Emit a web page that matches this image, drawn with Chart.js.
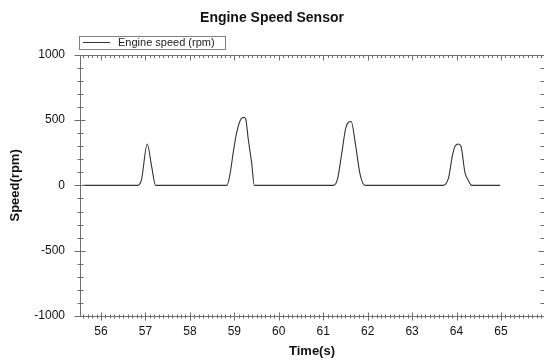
<!DOCTYPE html>
<html>
<head>
<meta charset="utf-8">
<script src="https://cdn.jsdelivr.net/npm/chart.js@4"></script>
<style>
  body { margin: 0; background: #fff; }
  #wrap { width: 545px; height: 361px; }
</style>
</head>
<body>
<div id="wrap"><canvas id="myChart"></canvas></div>
<script>
// values
const timeSec = [
    55.6, 56.82, 56.91, 57.04, 57.14, 57.23,
    58.83, 58.90, 58.98, 59.05, 59.15, 59.22, 59.26, 59.31, 59.39, 59.45,
    61.23, 61.32, 61.42, 61.51, 61.63, 61.72, 61.83, 61.94,
    63.70, 63.82, 63.91, 63.97, 64.04, 64.10, 64.19, 64.26, 64.34, 64.98
];
const speedRpm = [
    0, 0, 42, 317, 143, 0,
    0, 81, 262, 400, 508, 521, 504, 363, 172, 0,
    0, 46, 252, 443, 489, 328, 84, 0,
    0, 57, 233, 302, 317, 300, 97, 42, 0, 0
];
const xTicks = [56, 57, 58, 59, 60, 61, 62, 63, 64, 65];
const yTicks = [-1000, -500, 0, 500, 1000];

const fontFamily = '"Liberation Sans", Arial, sans-serif';
const axisColor = '#6e6e6e';
const textColor = '#111';

// box, minor ticks and the boxed legend, like the original plot
const framePlugin = {
    id: 'frame',
    afterDraw(chart) {
        const ctx = chart.ctx;
        const a = chart.chartArea;
        const xs = chart.scales.x;
        const ys = chart.scales.y;
        const L = Math.round(a.left) + 0.5;
        const R = Math.round(a.right) - 0.5;
        const T = Math.round(a.top) + 0.5;
        const B = Math.round(a.bottom) + 0.5;

        ctx.save();
        ctx.strokeStyle = axisColor;
        ctx.lineWidth = 1;
        ctx.beginPath();
        ctx.moveTo(L, T); ctx.lineTo(R, T);
        ctx.moveTo(L, T); ctx.lineTo(L, B); ctx.lineTo(R, B);

        for (let i = Math.ceil(xs.min * 10); i <= Math.floor(xs.max * 10); i++) {
            const x = Math.round(xs.getPixelForValue(i / 10)) + 0.5;
            const major = i % 10 === 0;
            const h = major ? 4 : 2;
            ctx.moveTo(x, B - h); ctx.lineTo(x, B + h);
            ctx.moveTo(x, T); ctx.lineTo(x, T + (major ? 5 : 2.5));
        }
        for (let v = -1000; v <= 1000; v += 100) {
            const y = Math.round(ys.getPixelForValue(v)) + 0.5;
            const major = v % 500 === 0;
            ctx.moveTo(L - (major ? 6 : 3), y); ctx.lineTo(L + (major ? 5 : 3), y);
            ctx.moveTo(R + 0.5, y); ctx.lineTo(R - (major ? 5 : 3), y);
        }
        ctx.stroke();

        // legend box
        const ds = chart.data.datasets[0];
        ctx.strokeStyle = '#808080';
        ctx.strokeRect(79.5, 36.5, 146, 13);
        ctx.beginPath();
        ctx.strokeStyle = ds.borderColor;
        ctx.moveTo(83, 42.5); ctx.lineTo(110, 42.5);
        ctx.stroke();
        ctx.fillStyle = '#222';
        ctx.font = '11px ' + fontFamily;
        ctx.textBaseline = 'middle';
        ctx.textAlign = 'left';
        ctx.fillText(ds.label, 118, 42.5);
        ctx.restore();
    }
};

const data = {
    datasets: [{
        label: 'Engine speed (rpm)',
        data: timeSec.map((t, i) => ({ x: t, y: speedRpm[i] })),
        borderColor: '#333333',
        borderWidth: 1.1,
        pointRadius: 0,
        cubicInterpolationMode: 'monotone',
        fill: false,
    }]
};

const options = {
    responsive: true,
    maintainAspectRatio: false,
    animation: false,
    layout: { padding: { left: 0, right: 1, top: 0, bottom: 0 } },
    plugins: {
        legend: { display: false },
        tooltip: { enabled: false },
        title: {
            display: true,
            text: 'Engine Speed Sensor',
            color: textColor,
            font: { family: fontFamily, size: 14, weight: 'bold' },
            padding: { top: 10, bottom: 28 },
        },
    },
    scales: {
        x: {
            type: 'linear',
            min: 55.5275,
            max: 65.968,
            afterBuildTicks: s => { s.ticks = xTicks.map(v => ({ value: v })); },
            afterFit: s => { s.height = 45; },
            grid: { display: false, drawTicks: false },
            border: { display: false },
            ticks: {
                color: textColor,
                font: { family: fontFamily, size: 12 },
                padding: 8,
                autoSkip: false,
                maxRotation: 0,
                callback: v => String(v),
            },
            title: {
                display: true,
                text: 'Time(s)',
                color: textColor,
                font: { family: fontFamily, size: 13, weight: 'bold' },
                padding: { top: 0, bottom: 2 },
            },
        },
        y: {
            min: -1000,
            max: 1000,
            afterBuildTicks: s => { s.ticks = yTicks.map(v => ({ value: v })); },
            afterFit: s => { s.width = 80; },
            grid: { display: false, drawTicks: false },
            border: { display: false },
            ticks: {
                color: textColor,
                font: { family: fontFamily, size: 12 },
                padding: 15,
                callback: v => String(v),
            },
            title: {
                display: true,
                text: 'Speed(rpm)',
                color: textColor,
                font: { family: fontFamily, size: 13, weight: 'bold' },
                padding: { top: 8, bottom: 0 },
            },
        },
    },
};

const myChart = new Chart(document.getElementById('myChart'), {
    type: 'line',
    data: data,
    options: options,
    plugins: [framePlugin],
});
</script>
</body>
</html>
